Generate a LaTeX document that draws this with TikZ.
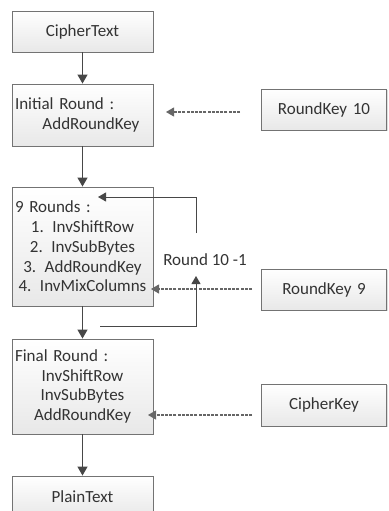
\documentclass[tikz,border=0pt]{standalone}
\usepackage{fontspec}
\setmainfont{Carlito}
\usetikzlibrary{arrows.meta,shadows,calc}
\newcommand\fl[1]{\makebox[135pt][l]{#1}}
\begin{document}
\begin{tikzpicture}[x=1pt,y=-1pt,
  every node/.style={font=\fontsize{17}{19.7}\selectfont, text=black!80},
  blk/.style={draw=black!55, line width=0.9pt, top color=white, bottom color=black!9,
    drop shadow={opacity=0.25, shadow xshift=1.2pt, shadow yshift=-1.2pt},
    minimum width=141pt, text width=135pt, inner xsep=3pt, inner ysep=0pt, align=center},
  flow/.style={draw=black!72, line width=1.3pt, -{Triangle[length=9pt,width=10pt]}},
  loopline/.style={draw=black!72, line width=1pt, -{Triangle[length=8pt,width=9pt]}},
  keyline/.style={draw=black!60, line width=1.1pt, dash pattern=on 3pt off 1.2pt, -{Triangle[length=8pt,width=9pt]}}
]
\useasboundingbox (0,0) rectangle (388,511);
\node[blk, minimum height=41pt] (ct) at (82.5,31.5) {CipherText};
\node[blk, minimum height=62pt] (init) at (82.5,115) {\fl{Initial Round :}\\ \fl{\hspace*{27.5pt}AddRoundKey}};
\node[blk, minimum height=119pt] (nine) at (82.5,246.5) {\fl{9 Rounds :}\\ 1. InvShiftRow\\ 2. InvSubBytes\\ 3. AddRoundKey\\ 4. InvMixColumns};
\node[blk, minimum height=95pt] (fin) at (82.5,386.5) {\fl{Final Round :}\\ InvShiftRow\\ InvSubBytes\\ AddRoundKey};
\node[blk, minimum height=41pt] (pt) at (82.5,496.5) {PlainText};
\node[blk, minimum width=125pt, text width=119pt, minimum height=41pt] (rk10) at (324,109.5) {RoundKey 10};
\node[blk, minimum width=125pt, text width=119pt, minimum height=41pt] (rk9) at (324,289.5) {RoundKey 9};
\node[blk, minimum width=125pt, text width=119pt, minimum height=42pt] (ck) at (324,405) {CipherKey};
\node (lbl) at (205,260) {Round 10 -1};
\draw[flow] (ct.south) -- (init.north);
\draw[flow] (init.south) -- (nine.north);
\draw[flow] (nine.south) -- (fin.north);
\draw[flow] (fin.south) -- (pt.north);
\coordinate (k10a) at (240,112);
\coordinate (k10b) at (166,112);
\coordinate (k9a) at (252,289);
\coordinate (k9b) at (151,289);
\coordinate (cka) at (252,415);
\coordinate (ckb) at (148,415);
\draw[keyline] (k10a) -- (k10b);
\draw[keyline] (k9a) -- (k9b);
\draw[keyline] (cka) -- (ckb);
\coordinate (la) at (196,233);
\coordinate (lb) at (98,197);
\coordinate (lc) at (100,326);
\coordinate (ld) at (196,276);
\draw[loopline] (la) |- (lb);
\draw[loopline] (lc) -| (ld);
\end{tikzpicture}
\end{document}
